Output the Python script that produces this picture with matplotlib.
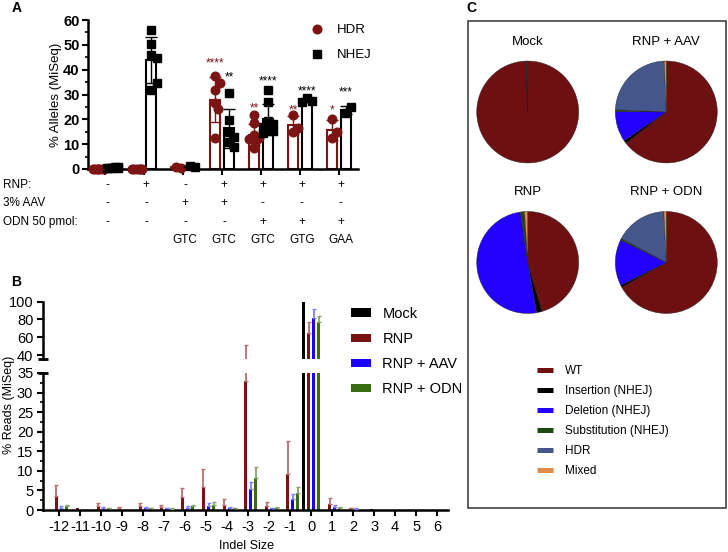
import numpy as np
import matplotlib
matplotlib.use('Agg')
import matplotlib.pyplot as plt
import matplotlib.transforms as mtrans
from matplotlib.patches import Rectangle, Patch
from matplotlib.lines import Line2D
from matplotlib.ticker import MultipleLocator

plt.rcParams['font.family'] = ['Liberation Sans', 'DejaVu Sans']

# ---------------- Panel A data ----------------
hdr_points = [
    [0.0, 0.1, 0.0, 0.2, 0.0, 0.1],
    [0.0, 0.1, 0.0, 0.1, 0.2, 0.0],
    [0.8, 0.6],
    [37.5, 32.0, 34.5, 26.7, 24.0, 12.5],
    [21.8, 18.7, 13.5, 12.5, 12.0, 11.6, 12.2, 8.3],
    [21.8, 15.0, 16.5],
    [20.0, 12.5, 14.7],
]
nhej_points = [
    [0.6, 0.8, 0.5, 0.7, 0.6, 0.5],
    [46.0, 32.0, 56.0, 50.5, 44.5, 34.5],
    [1.2, 1.0],
    [30.7, 19.7, 15.0, 13.0, 11.0, 9.0],
    [32.0, 27.0, 19.5, 18.0, 17.0, 16.5, 15.5, 14.5],
    [28.5, 27.5, 27.0],
    [22.5, 25.0],
]
hdr_stars = ['', '', '', '****', '**', '**', '*']
hdr_star_y = [0, 0, 0, 44.0, 25.8, 25.0, 25.0]
nhej_stars = ['', '****', '', '**', '****', '****', '***']
nhej_star_y = [0, 60.3, 0, 38.0, 36.7, 32.7, 32.0]
rnp_row = ['-', '+', '-', '+', '+', '+', '+']
aav_row = ['-', '-', '+', '+', '-', '-', '-']
odn_row = ['-', '-', '-', '-', '+', '+', '+']
codon_row = ['', '', 'GTC', 'GTC', 'GTC', 'GTG', 'GAA']
row_labels = ['RNP:', '3% AAV', 'ODN 50 pmol:']

# ---------------- Panel B data ----------------
indel = list(range(-12, 7))
mock_reads = [0]*12 + [100] + [0]*6
rnp_reads = [3.5, 0.4, 1.0, 0.5, 1.0, 0.8, 3.2, 5.9, 1.4, 33.0, 1.0, 9.3, 64.5, 1.6, 0.4, 0.2, 0, 0, 0]
rnp_err = [3.0, 0, 0.9, 0.2, 0.9, 0.6, 2.4, 4.5, 1.4, 18.5, 1.0, 8.4, 13.0, 1.4, 0.1, 0, 0, 0, 0]
aav_reads = [0.6, 0, 0.6, 0, 0.6, 0.4, 0.6, 1.0, 0.5, 5.3, 0.4, 2.7, 82.0, 0.8, 0.3, 0, 0, 0, 0]
aav_err = [0.3, 0, 0.2, 0, 0.2, 0.1, 0.3, 0.7, 0.2, 1.8, 0.2, 1.5, 9.5, 0.6, 0.1, 0, 0, 0, 0]
odn_reads = [1.0, 0, 0.4, 0, 0.5, 0.3, 0.9, 1.3, 0.4, 8.2, 0.5, 4.4, 77.5, 0.5, 0.1, 0, 0, 0, 0]
odn_err = [0.3, 0, 0.1, 0, 0.1, 0.2, 0.4, 0.7, 0.2, 2.8, 0.3, 1.6, 6.5, 0.3, 0, 0, 0, 0, 0]
b_labels = ['Mock', 'RNP', 'RNP + AAV', 'RNP + ODN']

# ---------------- Panel C data ----------------
pie_titles = ['Mock', 'RNP + AAV', 'RNP', 'RNP + ODN']
wt = [99.5, 64.5, 45.5, 66.9]
insertion = [0.0, 1.0, 1.7, 0.7]
deletion = [0.1, 9.7, 50.5, 14.7]
substitution = [0.0, 0.5, 1.0, 0.5]
hdr_frac = [0.3, 23.6, 0.3, 16.4]
mixed = [0.1, 0.7, 1.0, 0.8]
pie_labels = ['WT', 'Insertion (NHEJ)', 'Deletion (NHEJ)', 'Substitution (NHEJ)', 'HDR', 'Mixed']

# ---------------- styles ----------------
W, H = 728, 552
A_RED = '#7d1414'
B_COLORS = ['#000000', '#7b1111', '#1b00ff', '#376e14']
B_ERR = ['#000000', '#b87070', '#8080ff', '#80a868']
PIE_COLORS = ['#6e0f11', '#000000', '#2200ff', '#1d4a12', '#45568d', '#e08a4a']

fig = plt.figure(figsize=(W/100, H/100), dpi=100)


def fx(px):
    return px / W


def fy(py):
    return 1 - py / H


def box(l, t, r, b):
    return [fx(l), fy(b), (r - l) / W, (b - t) / H]


def swarm(vals, xpx, ypx, diam, step=2.7, nmax=2):
    cands = [0.0]
    for k in range(1, nmax + 1):
        cands += [k * step, -k * step]
    placed = []
    offs = []
    for v in vals:
        yp = v * ypx
        best, bestd = None, -1
        for c in cands:
            d = min([np.hypot(c - px, yp - py) for px, py in placed] or [1e9])
            if d >= diam * 0.9:
                best = c
                break
            if d > bestd:
                bestd, best = d, c
        placed.append((best, yp))
        offs.append(best / xpx)
    return np.array(offs)


# ================= Panel A =================
axA = fig.add_axes(box(88, 20, 358, 169))
xg = np.arange(len(hdr_points))
xpx, ypx = 39.0, 149.0 / 60.0
for i in xg:
    for pts, dx, col, mk, ms, st, sty in [
        (hdr_points[i], -0.18, A_RED, 'o', 6.2, hdr_stars[i], hdr_star_y[i]),
        (nhej_points[i], 0.18, 'black', 's', 5.6, nhej_stars[i], nhej_star_y[i])]:
        pts = np.array(pts)
        m, sd = pts.mean(), pts.std(ddof=1) if len(pts) > 1 else 0
        axA.bar(i + dx, m, width=0.24, facecolor='white', edgecolor=col, lw=1.5, zorder=2)
        offs = swarm(pts, xpx, ypx, 8.0)
        axA.plot(i + dx + offs, pts, mk, ms=ms, color=col, mec=col, zorder=3, clip_on=False)
        axA.errorbar(i + dx, m, yerr=sd, fmt='none', ecolor=col, elinewidth=1.0,
                     capsize=4, capthick=1.0, zorder=4)
        if st:
            axA.annotate(st, (i + dx, sty), xytext=(0, -4.5), textcoords='offset points',
                         ha='center', va='baseline', fontsize=8.5, color=col)
axA.set_xlim(-0.44, 6.49)
axA.set_ylim(0, 60)
for s in ['top', 'right']:
    axA.spines[s].set_visible(False)
for s in ['left', 'bottom']:
    axA.spines[s].set_linewidth(1.8)
axA.set_xticks(xg)
axA.set_xticklabels([])
axA.set_yticks(np.arange(0, 61, 10))
axA.yaxis.set_minor_locator(MultipleLocator(5))
axA.tick_params(axis='both', which='major', length=4, width=1.5, direction='out')
axA.tick_params(axis='y', which='minor', length=2.5, width=1.2)
axA.tick_params(axis='y', labelsize=10.5, pad=2)
for lab in axA.get_yticklabels():
    lab.set_fontweight('bold')
fig.text(fx(56), fy(94.5), '% Alleles (MiSeq)', rotation=90, ha='center', va='center', fontsize=9.5)

legA = axA.legend(handles=[Line2D([], [], ls='none', marker='o', ms=6.2, color=A_RED),
                           Line2D([], [], ls='none', marker='s', ms=5.6, color='black')],
                  labels=['HDR', 'NHEJ'], loc='upper left', bbox_to_anchor=(fx(310.5), fy(24)),
                  bbox_transform=fig.transFigure, frameon=False, fontsize=9.5, numpoints=1,
                  handlelength=1.0, handletextpad=1.0, labelspacing=0.98, borderpad=0, borderaxespad=0)

# table under A
tr = mtrans.blended_transform_factory(axA.transData, fig.transFigure)
row_y = [185, 203, 221.7, 240]
for lab, yy in zip(row_labels, row_y):
    fig.text(fx(3), fy(yy), lab, ha='left', va='center', fontsize=8.5)
for rowvals, yy in zip([rnp_row, aav_row, odn_row, codon_row], row_y):
    for i, s in enumerate(rowvals):
        if s:
            axA.text(i + 0.05, fy(yy), s, transform=tr, ha='center', va='center', fontsize=8.5)

# ================= Panel B =================
ax_lo = fig.add_axes(box(43, 373, 448, 510))
ax_up = fig.add_axes(box(43, 301.7, 448, 359))
series = [mock_reads, rnp_reads, aav_reads, odn_reads]
errs = [None, rnp_err, aav_err, odn_err]
xi = np.array(indel, dtype=float)
for ax in (ax_lo, ax_up):
    for k, vals in enumerate(series):
        xk = xi + (k - 1.5) * 0.24
        ax.bar(xk, vals, width=0.15, color=B_COLORS[k], zorder=2)
        if errs[k] is not None:
            e = np.array(errs[k])
            msk = e > 0
            ax.errorbar(xk[msk], np.array(vals)[msk], yerr=[np.zeros(msk.sum()), e[msk]],
                        fmt='none', ecolor=B_ERR[k], elinewidth=1.3, capsize=1.6,
                        capthick=1.0, zorder=3)
    ax.set_xlim(-12.76, 6.52)
    for s in ['top', 'right']:
        ax.spines[s].set_visible(False)
    for s in ['left', 'bottom']:
        ax.spines[s].set_linewidth(1.8)

ax_lo.set_ylim(0, 35)
ax_lo.set_yticks(np.arange(0, 36, 5))
ax_lo.yaxis.set_minor_locator(MultipleLocator(2.5))
ax_lo.set_xticks(indel)
ax_lo.set_xticklabels([str(v) for v in indel])
ax_lo.tick_params(axis='both', which='major', length=4, width=1.5, labelsize=10.5, pad=3)
ax_lo.tick_params(axis='y', which='minor', length=2.5, width=1.2)

ax_up.set_ylim(35.5, 100)
ax_up.set_yticks([40, 60, 80, 100])
ax_up.spines['bottom'].set_visible(False)
ax_up.set_xticks([])
ax_up.tick_params(axis='y', which='major', length=4, width=1.5, labelsize=10.5, pad=3)

# axis break caps
for ax, yv in ((ax_up, 0), (ax_lo, 1)):
    ax.plot([-0.013, 0.013], [yv, yv], transform=ax.transAxes, color='black', lw=2.0,
            clip_on=False, solid_capstyle='butt')

fig.text(fx(9), fy(405), '% Reads (MiSeq)', rotation=90, ha='center', va='center', fontsize=9)
fig.text(fx(246), fy(546), 'Indel Size', ha='center', va='center', fontsize=9)

fig.legend(handles=[Patch(facecolor=c, edgecolor='none') for c in B_COLORS], labels=b_labels,
           loc='upper left', bbox_to_anchor=(fx(351), fy(307)), frameon=False, fontsize=10.5,
           handlelength=1.4, handleheight=0.55, handletextpad=0.75, labelspacing=0.76,
           borderpad=0, borderaxespad=0)

# ================= Panel C =================
fig.add_artist(Rectangle((fx(468), fy(508)), (726 - 468) / W, (508 - 20.7) / H,
                         transform=fig.transFigure, fill=False, lw=1.1, edgecolor='#333333'))
centers = [(527.7, 112), (666.3, 112), (527.7, 262.5), (666.3, 262.5)]
R = 52
for j, (cx, cy) in enumerate(centers):
    axp = fig.add_axes(box(cx - R, cy - R, cx + R, cy + R))
    fr = [wt[j], insertion[j], deletion[j], substitution[j], hdr_frac[j], mixed[j]]
    axp.pie(fr, colors=PIE_COLORS, startangle=90, counterclock=False, radius=1,
            wedgeprops=dict(edgecolor='#222222', linewidth=0.3))
    axp.set_xlim(-1.02, 1.02)
    axp.set_ylim(-1.02, 1.02)
    axp.set_aspect('equal')
    axp.axis('off')
    axp.text(0.5, 1.176, pie_titles[j], transform=axp.transAxes, ha='center', va='center', fontsize=9.5)

fig.legend(handles=[Line2D([], [], color=c, lw=3.6, solid_capstyle='butt') for c in PIE_COLORS],
           labels=pie_labels, loc='upper left', bbox_to_anchor=(fx(536.7), fy(365)),
           frameon=False, fontsize=8.5, handlelength=1.38, handletextpad=1.0,
           labelspacing=0.68, borderpad=0, borderaxespad=0)

# panel letters
fig.text(fx(17), fy(8), 'A', ha='center', va='center', fontsize=10, fontweight='bold')
fig.text(fx(16.5), fy(281.5), 'B', ha='center', va='center', fontsize=10, fontweight='bold')
fig.text(fx(471), fy(8), 'C', ha='center', va='center', fontsize=10, fontweight='bold')

fig.savefig('out.png', dpi=100)
